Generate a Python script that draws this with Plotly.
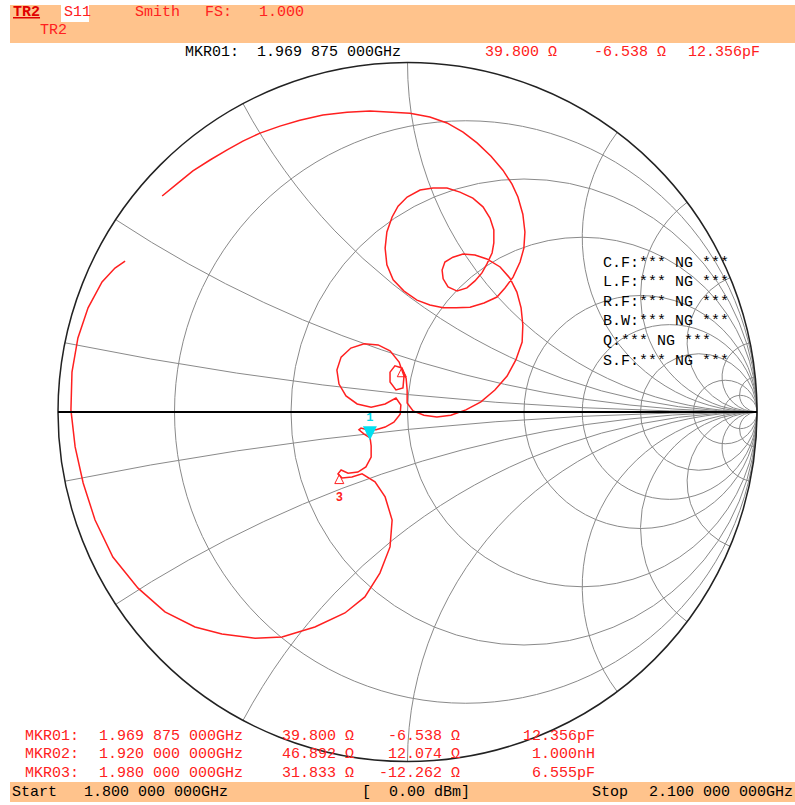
import numpy as np
import plotly.graph_objects as go

# ---------------- data ----------------
# S11 reflection coefficient, sweep 1.800 -> 2.100 GHz
s11_re = [-0.702, -0.657, -0.614, -0.565, -0.516, -0.471, -0.422, -0.365, -0.308, -0.242,
          -0.173, -0.107, -0.044, 0.007, 0.064, 0.113, 0.159, 0.199, 0.239, 0.273,
          0.299, 0.316, 0.330, 0.336, 0.333, 0.322, 0.302, 0.279, 0.256, 0.219,
          0.179, 0.139, 0.102, 0.064, 0.027, -0.010, -0.041, -0.059, -0.064, -0.059,
          -0.044, -0.027, -0.001, 0.036, 0.073, 0.113, 0.150, 0.187, 0.216, 0.236,
          0.247, 0.247, 0.242, 0.227, 0.213, 0.193, 0.170, 0.142, 0.116, 0.102,
          0.099, 0.107, 0.130, 0.159, 0.193, 0.227, 0.265, 0.293, 0.313, 0.325,
          0.330, 0.328, 0.310, 0.285, 0.250, 0.210, 0.167, 0.124, 0.084, 0.047,
          0.016, -0.001, -0.001, -0.004, -0.016, -0.036, -0.050, -0.050, -0.033, -0.013,
          -0.010, -0.024, -0.050, -0.084, -0.124, -0.162, -0.190, -0.202, -0.196, -0.176,
          -0.144, -0.104, -0.064, -0.033, -0.019, -0.021, -0.039, -0.064, -0.090, -0.116,
          -0.133, -0.139, -0.124, -0.107, -0.104, -0.104, -0.119, -0.142, -0.170, -0.190,
          -0.199, -0.187, -0.159, -0.130, -0.093, -0.064, -0.044, -0.050, -0.079, -0.122,
          -0.179, -0.265, -0.359, -0.436, -0.531, -0.608, -0.694, -0.771, -0.843, -0.894,
          -0.928, -0.951, -0.963, -0.960, -0.943, -0.914, -0.874, -0.837, -0.808]
s11_im = [0.618, 0.655, 0.690, 0.721, 0.750, 0.775, 0.798, 0.818, 0.835, 0.850,
          0.858, 0.861, 0.858, 0.855, 0.844, 0.827, 0.801, 0.770, 0.732, 0.692,
          0.652, 0.615, 0.566, 0.515, 0.469, 0.429, 0.386, 0.355, 0.329, 0.312,
          0.300, 0.298, 0.298, 0.306, 0.320, 0.346, 0.378, 0.421, 0.469, 0.515,
          0.558, 0.589, 0.615, 0.635, 0.641, 0.641, 0.629, 0.612, 0.587, 0.555,
          0.521, 0.484, 0.455, 0.423, 0.398, 0.375, 0.355, 0.346, 0.358, 0.381,
          0.406, 0.429, 0.443, 0.452, 0.449, 0.438, 0.415, 0.383, 0.343, 0.298,
          0.249, 0.200, 0.149, 0.103, 0.063, 0.029, 0.006, -0.009, -0.014, -0.009,
          0.003, 0.026, 0.063, 0.097, 0.126, 0.132, 0.114, 0.086, 0.063, 0.069,
          0.103, 0.143, 0.175, 0.192, 0.195, 0.183, 0.157, 0.120, 0.080, 0.046,
          0.023, 0.014, 0.023, 0.040, 0.020, -0.006, -0.029, -0.043, -0.051, -0.051,
          -0.046, -0.051, -0.063, -0.074, -0.097, -0.129, -0.157, -0.172, -0.175, -0.166,
          -0.177, -0.189, -0.186, -0.177, -0.200, -0.243, -0.309, -0.386, -0.461, -0.529,
          -0.575, -0.615, -0.644, -0.647, -0.635, -0.615, -0.572, -0.504, -0.415, -0.309,
          -0.203, -0.100, 0.006, 0.114, 0.212, 0.298, 0.372, 0.412, 0.432]

Z0 = 50.0
mkr_names = ["MKR01:", "MKR02:", "MKR03:"]
mkr_freq = ["1.969 875 000GHz", "1.920 000 000GHz", "1.980 000 000GHz"]
mkr_r = [39.800, 46.892, 31.833]
mkr_x = [-6.538, 12.074, -12.262]
mkr_lc = ["12.356pF", "1.000nH", "6.555pF"]

r_grid = [0.2, 0.5, 1, 2, 3, 5, 10, 20]
x_grid = [0.1, 0.3, 0.6, 1, 2, 3, 5, 10, 20]

start_txt = "1.800 000 000GHz"
stop_txt = "2.100 000 000GHz"
power_txt = "[  0.00 dBm]"
analysis_rows = ["C.F:*** NG ***", "L.F:*** NG ***", "R.F:*** NG ***",
                 "B.W:*** NG ***", "Q:*** NG ***", "S.F:*** NG ***"]

# ---------------- figure ----------------
W, H = 795, 805
RED = "#FF2020"
MONO = "Liberation Mono"

g = np.array(s11_re) + 1j * np.array(s11_im)
z = (1 + g) / (1 - g)
mz = (np.array(mkr_r) + 1j * np.array(mkr_x)) / Z0

fig = go.Figure()
fig.add_trace(go.Scattersmith(real=z.real, imag=z.imag, mode="lines",
                              line=dict(color=RED, width=1.5), hoverinfo="skip"))
# marker 1 (active) - cyan
fig.add_trace(go.Scattersmith(real=[mz[0].real], imag=[mz[0].imag], mode="markers",
                              marker=dict(symbol="arrow-down", size=14, color="#00E0F0",
                                          line=dict(width=0))))
fig.add_trace(go.Scattersmith(real=[mz[0].real], imag=[mz[0].imag], mode="markers+text",
                              text=["<b>1</b>"], textposition="top center",
                              textfont=dict(family=MONO, size=12, color="#00D8E8"),
                              marker=dict(size=24, color="rgba(0,0,0,0)")))
# markers 2, 3
fig.add_trace(go.Scattersmith(real=mz[1:].real, imag=mz[1:].imag, mode="markers",
                              marker=dict(symbol="arrow-up-open", size=9, color=RED,
                                          line=dict(width=1, color=RED))))
fig.add_trace(go.Scattersmith(real=[mz[2].real], imag=[mz[2].imag], mode="markers+text",
                              text=["<b>3</b>"], textposition="bottom center",
                              textfont=dict(family=MONO, size=12, color=RED),
                              marker=dict(size=26, color="rgba(0,0,0,0)")))

cx0, cx1 = 58, 757
cy0, cy1 = 62.5, 761.5
imag_vals = sorted([-v for v in x_grid] + [0] + x_grid)

fig.update_layout(
    width=W, height=H, margin=dict(l=0, r=0, t=0, b=0),
    paper_bgcolor="white", showlegend=False,
    smith=dict(
        domain=dict(x=[cx0 / W, cx1 / W], y=[1 - cy1 / H, 1 - cy0 / H]),
        bgcolor="white",
        realaxis=dict(tickvals=r_grid, showticklabels=False, ticks="",
                      gridcolor="#8a8a8a", gridwidth=1,
                      showline=True, linecolor="black", linewidth=2),
        imaginaryaxis=dict(tickvals=imag_vals, showticklabels=False, ticks="",
                           gridcolor="#8a8a8a", gridwidth=1,
                           showline=True, linecolor="#222222", linewidth=1.5),
    ),
)

def px(x):
    return x / W

def py(y):
    return 1 - y / H

shapes = [
    dict(type="rect", xref="paper", yref="paper", x0=px(10), x1=1, y0=py(43), y1=py(5),
         fillcolor="#FFC38C", line=dict(width=0), layer="below"),
    dict(type="rect", xref="paper", yref="paper", x0=px(61), x1=px(89), y0=py(22), y1=py(5),
         fillcolor="white", line=dict(width=0), layer="below"),
    dict(type="rect", xref="paper", yref="paper", x0=px(10), x1=1, y0=py(802), y1=py(782),
         fillcolor="#FFC38C", line=dict(width=0), layer="below"),
]
fig.update_layout(shapes=shapes)

ann = []

def txt(x, y, s, color="black", anchor="left", size=15, bold=False):
    ann.append(dict(x=px(x), y=py(y), xref="paper", yref="paper", text=("<b>%s</b>" % s) if bold else s,
                    showarrow=False, xanchor=anchor, yanchor="middle",
                    font=dict(family=MONO, size=size, color=color)))

# header
txt(11, 13, "<u>TR2</u>", "#E00000", bold=True)
txt(62, 13, "S11", RED)
txt(133, 13, "Smith", RED)
txt(203, 13, "FS:", RED)
txt(257, 13, "1.000", RED)
txt(38, 31, "TR2", RED)

# active marker line
txt(183, 53, mkr_names[0] + "  " + mkr_freq[0])
txt(483, 53, "%.3f Ω" % mkr_r[0], RED)
txt(668, 53, "%.3f Ω" % mkr_x[0], RED, anchor="right")
txt(762, 53, mkr_lc[0], RED, anchor="right")

# analysis block
for i, s in enumerate(analysis_rows):
    txt(601, 263 + i * 19.6, s)

# marker table
rows_y = [736, 754, 773]
for i in range(3):
    y = rows_y[i]
    txt(23, y, mkr_names[i], RED)
    txt(97, y, mkr_freq[i], RED)
    txt(280, y, "%.3f Ω" % mkr_r[i], RED)
    txt(462, y, "%.3f Ω" % mkr_x[i], RED, anchor="right")
    txt(597, y, mkr_lc[i], RED, anchor="right")

# footer
txt(10, 792, "Start")
txt(82, 792, start_txt)
txt(360, 792, power_txt)
txt(590, 792, "Stop")
txt(795, 792, stop_txt, anchor="right")

fig.update_layout(annotations=ann)
fig.write_html("out.html", config={"displayModeBar": False},
               post_script="document.body.style.margin='0px';")
